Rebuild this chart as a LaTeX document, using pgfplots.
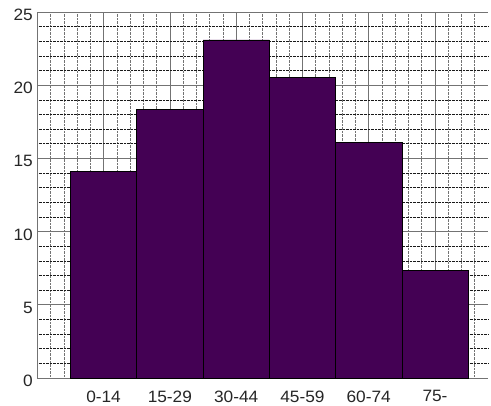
\documentclass[border=0pt]{standalone}
\usepackage{fontspec}
\setmainfont{Liberation Sans}
\newfontfamily\tickfont[FakeStretch=1.05]{Liberation Sans}
\usepackage{pgfplots}
\pgfplotsset{compat=1.18}
\definecolor{barc}{HTML}{440154}
\begin{document}
\begin{tikzpicture}
\begin{axis}[
  scale only axis,
  width=450.7bp, height=366bp,
  xmin=-1, xmax=5.8, ymin=0, ymax=25,
  xtick={0,1,2,3,4,5},
  xticklabels={0-14,15-29,30-44,45-59,60-74,75-},
  minor xtick={-0.8,-0.6,-0.4,-0.2,0.2,0.4,0.6,0.8,1.2,1.4,1.6,1.8,2.2,2.4,2.6,2.8,3.2,3.4,3.6,3.8,4.2,4.4,4.6,4.8,5.2,5.4,5.6},
  ytick={0,5,10,15,20,25},
  minor ytick={1,2,3,4,6,7,8,9,11,12,13,14,16,17,18,19,21,22,23,24},
  xmajorgrids, ymajorgrids, xminorgrids, yminorgrids,
  major grid style={black!55, line width=0.7pt},
  minor x grid style={black!55, densely dotted, line width=0.6pt},
  minor y grid style={black!90, densely dotted, line width=0.6pt},
  major tick length=0pt, minor tick length=0pt,
  axis y line*=left, axis x line*=bottom,
  axis line style={black!55, line width=0.8pt, -},
  every tick label/.append style={font=\tickfont\fontsize{16.5}{18}\selectfont, text=black!85},
  /pgf/number format/assume math mode=true,
  xticklabel style={yshift=-9bp},
  yticklabel style={xshift=-1bp, yshift=-3bp},
  ybar, bar width=1,
]
\addplot[fill=barc, draw=black, line width=0.6pt] coordinates {
  (0,14.1) (1,18.35) (2,23.1) (3,20.55) (4,16.1) (5,7.33)
};
\end{axis}
\pgfresetboundingbox
\path[use as bounding box] ([xshift=-37.3bp,yshift=-27bp]current axis.south west) rectangle ([xshift=3bp,yshift=12bp]current axis.north east);
\end{tikzpicture}
\end{document}
